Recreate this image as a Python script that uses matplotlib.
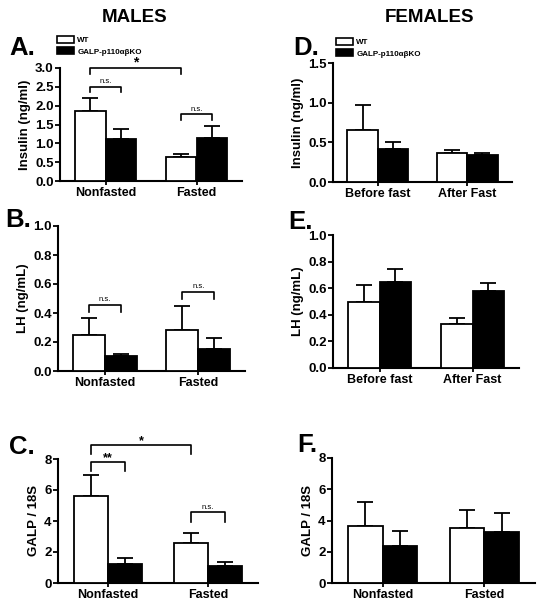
import matplotlib
matplotlib.use("Agg")
import matplotlib.pyplot as plt
from matplotlib.patches import Patch
import numpy as np

plt.rcParams['font.family'] = ['Liberation Sans', 'DejaVu Sans']
plt.rcParams['font.weight'] = 'bold'

# ---- data ----
male_groups = ["Nonfasted", "Fasted"]
female_groups = ["Before fast", "After Fast"]
galp_groups = ["Nonfasted", "Fasted"]

# panel A - males insulin
a_wt = [1.87, 0.63]
a_wt_err = [0.33, 0.09]
a_ko = [1.11, 1.13]
a_ko_err = [0.28, 0.32]

# panel D - females insulin
d_wt = [0.65, 0.37]
d_wt_err = [0.32, 0.03]
d_ko = [0.42, 0.34]
d_ko_err = [0.08, 0.025]

# panel B - males LH
b_wt = [0.25, 0.285]
b_wt_err = [0.115, 0.165]
b_ko = [0.105, 0.15]
b_ko_err = [0.015, 0.08]

# panel E - females LH
e_wt = [0.50, 0.33]
e_wt_err = [0.125, 0.045]
e_ko = [0.645, 0.578]
e_ko_err = [0.10, 0.058]

# panel C - males GALP
c_wt = [5.6, 2.55]
c_wt_err = [1.38, 0.68]
c_ko = [1.25, 1.1]
c_ko_err = [0.38, 0.27]

# panel F - females GALP
f_wt = [3.65, 3.5]
f_wt_err = [1.53, 1.15]
f_ko = [2.35, 3.26]
f_ko_err = [0.96, 1.22]

W = 0.34
FW, FH = 548, 612


def px_axes(fig, left, right, top, bottom):
    return fig.add_axes([left / FW, 1 - bottom / FH, (right - left) / FW, (bottom - top) / FH])


def bar_panel(ax, groups, wt, wt_err, ko, ko_err, ylim, yticks, fmt, ylabel):
    x = np.arange(len(groups))
    ax.bar(x - W / 2, wt, W, color='white', edgecolor='black', linewidth=1.3, zorder=3)
    ax.bar(x + W / 2, ko, W, color='black', edgecolor='black', linewidth=1.3, zorder=3)
    ax.errorbar(x - W / 2, wt, yerr=[np.zeros(len(wt)), wt_err], fmt='none',
                ecolor='black', elinewidth=1.3, capsize=5.5, capthick=1.3, zorder=2)
    ax.errorbar(x + W / 2, ko, yerr=[np.zeros(len(ko)), ko_err], fmt='none',
                ecolor='black', elinewidth=1.3, capsize=5.5, capthick=1.3, zorder=2)
    ax.set_xlim(-0.5, 1.5)
    ax.set_ylim(*ylim)
    ax.set_yticks(yticks)
    ax.set_yticklabels([fmt % v for v in yticks])
    ax.set_xticks(x)
    ax.set_xticklabels(groups)
    ax.set_ylabel(ylabel, fontsize=9.5, fontweight='bold', labelpad=3)
    for s in ['top', 'right']:
        ax.spines[s].set_visible(False)
    for s in ['left', 'bottom']:
        ax.spines[s].set_linewidth(1.5)
    ax.tick_params(axis='y', direction='out', length=3.5, width=1.3, labelsize=9.5, pad=1)
    ax.tick_params(axis='x', direction='out', length=3, width=1.3, labelsize=9, pad=1.5)
    for t in ax.get_xticklabels() + ax.get_yticklabels():
        t.set_fontweight('bold')


def bracket(ax, x1, x2, y, leg, label, size, dy):
    ax.plot([x1, x1, x2, x2], [y - leg, y, y, y - leg], color='black', lw=1.2, clip_on=False)
    ax.text((x1 + x2) / 2, y + dy, label, ha='center', va='bottom', fontsize=size,
            fontweight='bold' if label != 'n.s.' else 'normal', clip_on=False)


fig = plt.figure(figsize=(FW / 100, FH / 100), dpi=100)

axA = px_axes(fig, 60, 242, 68, 181)
bar_panel(axA, male_groups, a_wt, a_wt_err, a_ko, a_ko_err, (0, 3.0),
          [0, 0.5, 1.0, 1.5, 2.0, 2.5, 3.0], '%.1f', 'Insulin (ng/ml)')
bracket(axA, -W / 2, W / 2, 2.5, 0.15, 'n.s.', 5.5, 0.04)
bracket(axA, -W / 2, 1 - W / 2, 3.0, 0.15, '*', 10, -0.03)
bracket(axA, 1 - W / 2, 1 + W / 2, 1.77, 0.15, 'n.s.', 5.5, 0.04)

axD = px_axes(fig, 333, 512, 63, 182)
bar_panel(axD, female_groups, d_wt, d_wt_err, d_ko, d_ko_err, (0, 1.5),
          [0, 0.5, 1.0, 1.5], '%.1f', 'Insulin (ng/ml)')

axB = px_axes(fig, 58, 245, 226, 371)
bar_panel(axB, male_groups, b_wt, b_wt_err, b_ko, b_ko_err, (0, 1.0),
          [0, 0.2, 0.4, 0.6, 0.8, 1.0], '%.1f', 'LH (ng/mL)')
bracket(axB, -W / 2, W / 2, 0.457, 0.048, 'n.s.', 5.5, 0.015)
bracket(axB, 1 - W / 2, 1 + W / 2, 0.545, 0.048, 'n.s.', 5.5, 0.015)

axE = px_axes(fig, 333, 519, 235, 368)
bar_panel(axE, female_groups, e_wt, e_wt_err, e_ko, e_ko_err, (0, 1.0),
          [0, 0.2, 0.4, 0.6, 0.8, 1.0], '%.1f', 'LH (ng/mL)')

axC = px_axes(fig, 58, 258, 459, 583)
bar_panel(axC, galp_groups, c_wt, c_wt_err, c_ko, c_ko_err, (0, 8),
          [0, 2, 4, 6, 8], '%d', 'GALP / 18S')
bracket(axC, -W / 2, W / 2, 7.83, 0.6, '**', 9, -0.15)
bracket(axC, -W / 2, 1 - W / 2, 8.9, 0.55, '*', 9, -0.15)
bracket(axC, 1 - W / 2, 1 + W / 2, 4.55, 0.6, 'n.s.', 5.5, 0.12)

axF = px_axes(fig, 332, 535, 458, 583)
bar_panel(axF, galp_groups, f_wt, f_wt_err, f_ko, f_ko_err, (0, 8),
          [0, 2, 4, 6, 8], '%d', 'GALP / 18S')

# legends
handles = [Patch(facecolor='white', edgecolor='black', linewidth=1.2, label='WT'),
           Patch(facecolor='black', edgecolor='black', linewidth=1.2, label='GALP-p110\u03b1\u03b2KO')]
for lx, ly in [(57, 36), (336, 38)]:
    fig.legend(handles=handles, loc='upper left', bbox_to_anchor=(lx / FW, 1 - ly / FH),
               frameon=False, handlelength=2.1, handleheight=1.0,
               handletextpad=0.4, labelspacing=0.35, borderpad=0, borderaxespad=0,
               prop={'weight': 'bold', 'size': 5.8})

# titles and panel letters
fig.text(135 / FW, 1 - 18 / FH, 'MALES', ha='center', va='center', fontsize=13.5, fontweight='bold')
fig.text(429 / FW, 1 - 18 / FH, 'FEMALES', ha='center', va='center', fontsize=13.5, fontweight='bold')
letters = [('A.', 9, 55), ('D.', 293, 55), ('B.', 5, 227), ('E.', 288, 229),
           ('C.', 9, 454), ('F.', 297, 452)]
for txt, lx, ly in letters:
    fig.text(lx / FW, 1 - ly / FH, txt, ha='left', va='baseline', fontsize=18.5, fontweight='bold')

fig.savefig('out.png', dpi=100)
